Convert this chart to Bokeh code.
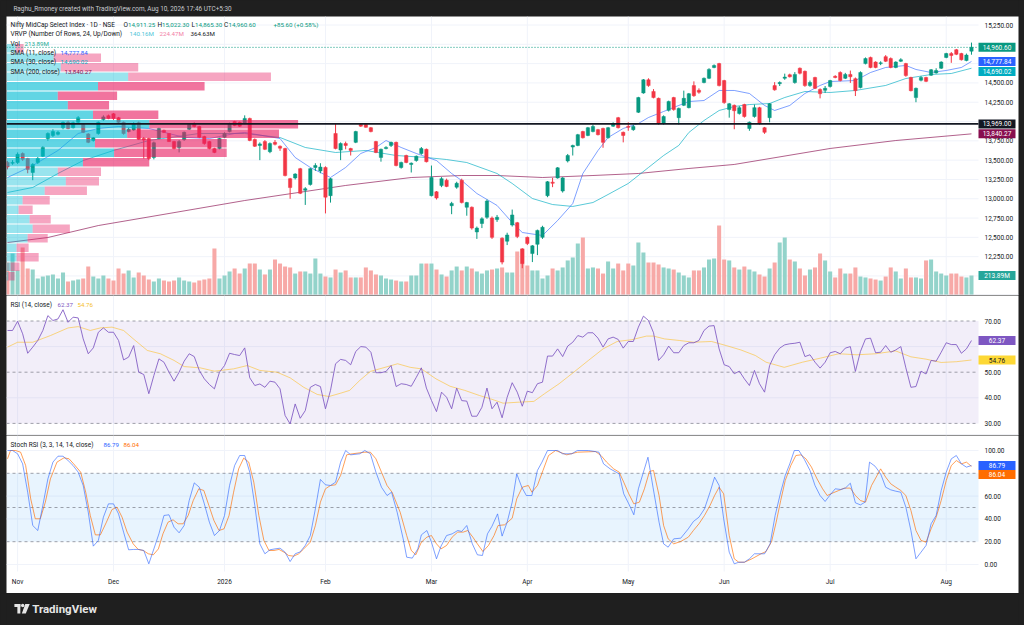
from bokeh.plotting import figure
from bokeh.models import Range1d
from bokeh.layouts import column
from bokeh.embed import file_html
from bokeh.resources import INLINE
from bokeh.core.properties import value

# ------------------------------------------------------------------ DATA
opens = [
13470, 13460, 13470, 13585, 13520, 13340, 13470, 13550, 13780, 13820,
13835, 13920, 13990, 13920, 13990, 13960, 13840, 13755, 13845, 14025,
14075, 14100, 14050, 13990, 13870, 13890, 13985, 13780, 13780, 13535,
13780, 13885, 13845, 13740, 13665, 13765, 13900, 13975, 13935, 13805,
13740, 13650, 13650, 13795, 13870, 14000, 13990, 13975, 14040, 13767,
13690, 13740, 13610, 13730, 13680, 13650, 13260, 13270, 13390, 13110,
13185, 13405, 13360, 13405, 13040, 13845, 13630, 13715, 13650, 13730,
13960, 13960, 13920, 13740, 13535, 13650, 13690, 13730, 13405, 13560,
13445, 13495, 13585, 13640, 13040, 13090, 13170, 13240, 12910, 13150,
13240, 12890, 12890, 12570, 12680, 12760, 12750, 12730, 12490, 12450,
12660, 12690, 12350, 12500, 12290, 12410, 12500, 13040, 13215, 13270,
13100, 13490, 13670, 13690, 13870, 13820, 13870, 13895, 13910, 13790,
13940, 14050, 13860, 13935, 13895, 14120, 14370, 14540, 14390, 14300,
13975, 14145, 14310, 14050, 14210, 14180, 14465, 14405, 14505, 14560,
14700, 14750, 14530, 14155, 14210, 14105, 14220, 13910, 14065, 14180,
13920, 14050, 14465, 14490, 14560, 14605, 14505, 14690, 14650, 14465,
14570, 14415, 14405, 14455, 14585, 14635, 14560, 14610, 14555, 14440,
14750, 14830, 14770, 14750, 14840, 14815, 14700, 14780, 14750, 14570,
14310, 14535, 14570, 14600, 14630, 14690, 14830, 14880, 14930, 14880,
14790, 14911.25]

highs = [
13490, 13500, 13600, 13600, 13530, 13460, 13540, 13680, 13860, 13900,
13880, 14000, 14010, 14000, 14070, 13975, 13850, 13800, 14000, 14080,
14090, 14110, 14060, 14000, 13920, 13990, 14000, 13800, 13790, 13740,
13920, 13895, 13850, 13750, 13760, 13870, 13975, 13990, 13945, 13815,
13750, 13660, 13790, 13860, 13985, 14010, 14000, 14080, 14050, 13780,
13730, 13760, 13730, 13760, 13690, 13660, 13270, 13330, 13400, 13150,
13400, 13460, 13460, 13420, 13270, 13970, 13730, 13740, 13660, 13880,
13975, 13970, 13930, 13750, 13650, 13680, 13740, 13740, 13480, 13570,
13470, 13560, 13670, 13650, 13430, 13100, 13280, 13260, 12960, 13220,
13260, 12960, 12900, 12640, 12760, 12990, 12770, 12790, 12500, 12560,
12860, 12700, 12360, 12510, 12400, 12600, 12650, 13230, 13270, 13410,
13280, 13580, 13700, 13840, 13880, 13930, 13960, 13905, 13920, 13930,
13990, 14060, 13870, 13990, 13960, 14320, 14550, 14560, 14420, 14310,
14080, 14270, 14320, 14180, 14400, 14370, 14520, 14430, 14570, 14690,
14740, 14760, 14540, 14240, 14220, 14200, 14230, 14000, 14220, 14190,
13930, 14240, 14510, 14520, 14620, 14620, 14640, 14700, 14660, 14530,
14580, 14430, 14460, 14540, 14600, 14650, 14630, 14660, 14570, 14650,
14830, 14840, 14780, 14780, 14860, 14830, 14780, 14820, 14760, 14580,
14440, 14590, 14580, 14680, 14690, 14780, 14890, 14900, 14940, 14890,
14880, 15022.30]

lows = [
13380, 13440, 13450, 13490, 13330, 13240, 13450, 13540, 13750, 13800,
13820, 13900, 13900, 13910, 13980, 13850, 13720, 13740, 13830, 14010,
14030, 14020, 13980, 13830, 13860, 13880, 13760, 13520, 13500, 13510,
13770, 13850, 13735, 13640, 13600, 13750, 13890, 13925, 13785, 13700,
13640, 13590, 13640, 13785, 13860, 13940, 13930, 13965, 13745, 13670,
13500, 13630, 13590, 13690, 13620, 13290, 13000, 13250, 13060, 12920,
13170, 13360, 13330, 12810, 12950, 13640, 13500, 13640, 13560, 13720,
13930, 13920, 13860, 13590, 13480, 13640, 13670, 13420, 13390, 13460,
13340, 13480, 13570, 13470, 13030, 12990, 13150, 13150, 12800, 13130,
12940, 12780, 12600, 12480, 12620, 12740, 12480, 12700, 12150, 12400,
12640, 12490, 12100, 12400, 12180, 12270, 12480, 13020, 13150, 13260,
13080, 13470, 13560, 13680, 13780, 13810, 13860, 13820, 13660, 13780,
13930, 13910, 13730, 13880, 13880, 14110, 14360, 14450, 14300, 13960,
13960, 14130, 14140, 13960, 14200, 14170, 14320, 14360, 14495, 14550,
14690, 14455, 14230, 14050, 13900, 14090, 14050, 13880, 14050, 13960,
13840, 13990, 14400, 14460, 14540, 14570, 14490, 14610, 14450, 14450,
14420, 14300, 14370, 14440, 14560, 14520, 14550, 14500, 14330, 14430,
14740, 14690, 14690, 14730, 14770, 14690, 14690, 14770, 14580, 14390,
14250, 14520, 14510, 14590, 14620, 14680, 14820, 14760, 14860, 14790,
14780, 14865.30]

closes = [
13410, 13470, 13575, 13510, 13380, 13445, 13520, 13665, 13845, 13870,
13860, 13990, 13910, 13985, 14050, 13860, 13730, 13790, 13990, 14060,
14040, 14040, 13990, 13845, 13900, 13970, 13770, 13760, 13520, 13725,
13910, 13860, 13740, 13650, 13740, 13860, 13960, 13935, 13795, 13715,
13650, 13600, 13780, 13845, 13975, 13950, 13940, 14040, 13755, 13680,
13710, 13640, 13715, 13705, 13655, 13300, 13145, 13320, 13070, 13130,
13390, 13430, 13410, 13020, 13260, 13650, 13715, 13690, 13625, 13870,
13940, 13925, 13870, 13600, 13640, 13665, 13730, 13430, 13470, 13470,
13460, 13550, 13650, 13480, 13275, 13010, 13260, 13160, 12940, 13200,
12950, 12950, 12620, 12620, 12740, 12970, 12500, 12760, 12180, 12530,
12790, 12510, 12160, 12420, 12390, 12590, 12630, 13220, 13200, 13400,
13270, 13560, 13690, 13830, 13790, 13920, 13935, 13830, 13730, 13920,
13975, 13920, 13820, 13925, 13935, 14310, 14540, 14465, 14310, 13975,
14065, 14260, 14155, 14170, 14300, 14360, 14335, 14380, 14560, 14675,
14725, 14465, 14245, 14230, 14140, 14180, 14065, 13990, 14180, 13975,
13860, 14230, 14410, 14505, 14575, 14580, 14610, 14625, 14465, 14505,
14430, 14360, 14430, 14530, 14570, 14530, 14610, 14580, 14400, 14635,
14815, 14700, 14700, 14760, 14780, 14700, 14770, 14800, 14595, 14400,
14430, 14570, 14520, 14670, 14660, 14770, 14880, 14855, 14870, 14800,
14860, 14960.60]

volumes_m = [
353, 449, 268, 514, 289, 278, 182, 203, 214, 225,
182, 246, 150, 160, 171, 182, 310, 203, 182, 214,
182, 160, 289, 235, 268, 193, 246, 214, 171, 150,
182, 160, 150, 160, 193, 160, 150, 139, 160, 171,
182, 503, 182, 214, 257, 289, 235, 289, 342, 342,
278, 225, 278, 385, 342, 310, 300, 235, 257, 257,
235, 396, 235, 203, 193, 278, 246, 268, 193, 193,
193, 300, 268, 225, 214, 182, 171, 160, 150, 150,
214, 214, 342, 342, 342, 278, 225, 203, 268, 310,
268, 310, 289, 257, 235, 268, 278, 289, 300, 246,
246, 471, 503, 321, 268, 268, 182, 214, 289, 268,
300, 375, 407, 556, 621, 289, 300, 289, 235, 364,
289, 342, 268, 342, 321, 567, 460, 353, 353, 332,
300, 289, 278, 246, 214, 193, 268, 268, 300, 385,
396, 749, 385, 375, 300, 278, 310, 278, 257, 225,
203, 289, 353, 567, 621, 385, 364, 289, 214, 278,
300, 449, 375, 257, 193, 289, 235, 235, 300, 203,
193, 182, 171, 160, 203, 300, 257, 182, 289, 193,
193, 182, 375, 385, 257, 235, 214, 235, 235, 203,
193, 213.89]

sma11_x = [0, 5, 10, 14, 18, 22, 28, 35, 40, 45, 47, 54, 57, 60, 64, 67, 70, 73, 75, 78,
           81, 85, 88, 90, 93, 97, 100, 102, 106, 109, 112, 114, 117, 119, 122, 125, 127, 130, 133, 135,
           138, 141, 144, 147, 150, 152, 155, 158, 161, 163, 168, 171, 174, 178, 180, 183, 186, 189, 191]
sma11 = [13275, 13430, 13625, 13845, 13910, 13935, 13910, 13795, 13780, 13845, 13858, 13780, 13534, 13405, 13275, 13405, 13586, 13664, 13754, 13664,
         13586, 13495, 13327, 13236, 13068, 12913, 12692, 12563, 12524, 12718, 12938, 13327, 13625, 13793, 13910, 13974, 14052, 14130, 14208, 14259,
         14272, 14402, 14402, 14363, 14208, 14143, 14208, 14363, 14467, 14518, 14531, 14635, 14700, 14726, 14674, 14635, 14661, 14700, 14777.84]

sma30_x = [0, 5, 10, 15, 21, 28, 38, 47, 54, 59, 65, 71, 77, 83, 87, 91, 97, 100, 104, 108,
           112, 116, 119, 123, 127, 130, 133, 135, 138, 141, 144, 147, 151, 154, 158, 163, 168, 174, 178, 183, 187, 191]
sma30 = [13081, 13146, 13327, 13495, 13625, 13754, 13845, 13845, 13793, 13664, 13599, 13625, 13560, 13534, 13508, 13469, 13327, 13198, 13003, 12925,
         12900, 12951, 13055, 13198, 13405, 13560, 13690, 13858, 14013, 14143, 14194, 14220, 14233, 14311, 14389, 14376, 14402, 14467, 14557, 14609, 14622, 14690.02]

sma200_x = [0, 8, 18, 32, 47, 67, 80, 90, 97, 106, 116, 125, 135, 144, 163, 176, 191]
sma200 = [12433, 12498, 12653, 12809, 12977, 13172, 13275, 13301, 13301, 13275, 13301, 13327, 13392, 13444, 13651, 13754, 13840.27]

poc_price = 13969.00

vp_row_low = [14887, 14764, 14641, 14518, 14395, 14272, 14149, 14026, 13903, 13780, 13657, 13534, 13411,
              13288, 13165, 13042, 12919, 12796, 12673, 12550, 12427, 12304, 12181, 12058, 11935]
vp_row_height = 123
vp_up = [9, 47, 54, 121, 91, 51, 61, 86, 142, 120, 88, 107, 76, 51, 59, 38, 16, 12, 23, 26, 21, 10, 10, 4, 2]
vp_down = [8, 47, 77, 142, 106, 59, 41, 65, 148, 151, 131, 112, 66, 43, 33, 42, 27, 14, 21, 37, 20, 12, 22, 9, 6]
vp_value_area = [False] * 4 + [True] * 9 + [False] * 12

rsi_vals = [
66.3, 66.3, 69.9, 65.0, 57.4, 59.8, 62.4, 66.3, 72.1, 70.2,
70.8, 74.4, 69.5, 71.5, 71.2, 63.0, 57.2, 59.5, 65.6, 67.3,
65.6, 65.6, 62.4, 54.8, 55.9, 60.4, 50.0, 49.1, 41.6, 48.7,
55.2, 53.9, 50.0, 46.5, 50.0, 54.3, 57.2, 56.1, 50.7, 47.4,
45.2, 43.5, 50.0, 52.6, 57.4, 56.9, 56.5, 59.5, 47.8, 44.8,
45.4, 44.1, 46.5, 46.1, 43.5, 33.1, 29.8, 37.6, 32.0, 35.0,
44.1, 45.2, 44.4, 35.7, 42.9, 53.3, 55.0, 54.6, 52.9, 58.1,
60.0, 59.8, 57.8, 49.8, 49.8, 50.3, 52.6, 44.4, 45.5, 45.2,
44.5, 48.0, 51.7, 43.8, 39.0, 34.6, 42.2, 40.2, 35.7, 43.8,
38.9, 38.7, 32.8, 32.8, 36.3, 43.8, 35.7, 38.3, 32.2, 40.2,
45.9, 42.2, 36.7, 42.6, 42.0, 45.5, 46.1, 56.3, 56.3, 59.1,
56.1, 60.2, 61.7, 64.3, 63.7, 65.4, 65.4, 63.3, 59.8, 63.0,
63.7, 62.8, 59.4, 62.0, 62.0, 67.6, 71.9, 70.2, 65.4, 54.6,
56.8, 60.2, 57.6, 57.6, 60.4, 61.5, 61.5, 62.4, 66.3, 68.0,
68.2, 59.1, 52.9, 52.2, 49.4, 50.4, 47.4, 44.8, 50.7, 45.5,
42.2, 52.6, 56.8, 59.4, 60.7, 61.1, 61.3, 61.7, 56.1, 56.8,
53.9, 51.6, 53.9, 57.6, 58.1, 57.2, 59.4, 60.0, 50.3, 58.1,
63.0, 63.3, 57.6, 57.8, 60.4, 57.8, 58.7, 60.0, 51.7, 44.1,
44.4, 50.4, 49.3, 54.6, 54.3, 57.8, 61.5, 60.8, 60.8, 57.4,
59.1, 62.37]

rsi_ma_x = [0, 2, 5, 8.5, 12, 14, 16.4, 18.4, 20.7, 23, 25, 27.7, 30.3, 33, 35, 38.2, 41, 44.8, 47.5, 50,
            53.4, 56, 58.7, 61.4, 63.7, 66, 67.8, 69.8, 71.9, 74.8, 77.3, 79.8, 82, 84.9, 87.7, 90.6, 93.5, 95.7, 98.2, 101.4,
            104.3, 106.4, 109.3, 112.2, 115.1, 118, 120.8, 123.7, 126.6, 128, 130.2, 133.1, 135.9, 139.5, 142.4, 145.3, 148.2, 150.3, 153.9, 157.5,
            161.1, 164.7, 168.3, 172, 176, 179, 182, 185, 188, 191]
rsi_ma = [59.8, 61.7, 61.7, 64.3, 67.3, 67.8, 66.3, 67.3, 67.6, 66.3, 62.9, 58.5, 57.2, 54.6, 52.2, 51.7, 50.4, 51.3, 52.6, 50.7,
          50.0, 47.8, 44.1, 41.3, 40.5, 41.8, 42.9, 46.8, 50.3, 51.9, 53.3, 51.9, 51.3, 47.4, 44.5, 42.9, 40.9, 39.6, 37.9, 38.3,
          38.6, 41.6, 45.5, 50.0, 54.6, 59.1, 62.0, 62.7, 64.1, 64.1, 63.0, 62.4, 61.7, 62.0, 60.4, 58.7, 56.5, 53.9, 51.9, 53.9,
          55.5, 57.2, 56.8, 57.2, 58.3, 56.0, 55.1, 53.8, 54.1, 54.76]

stoch_k_x = list(range(67)) + [
    67, 68.0, 69.8, 70.8, 71.9, 73.0, 74.1, 75.2, 76.1, 77.2,
    78.4, 79.1, 80.2, 81.3, 82.0, 83.1, 84.0, 85.0, 85.9, 87.0,
    88.1, 89.2, 90.0, 91.0, 92.1, 93.1, 94.1, 95.1, 96.0, 97.1,
    98.0, 99.0, 100.0, 100.9, 101.9, 102.8, 103.9, 105.0, 105.9, 107.0,
    109.0, 110.0, 111.8, 112.9, 115.1, 117.2, 118.1, 119.4, 121.2, 122.1,
    123.1, 124.1, 125.0, 126.0, 126.9, 127.9, 129.1, 130.0, 130.9, 132.0,
    133.4, 134.9, 135.9, 137.0, 138.1, 139.2, 140.1, 141.0, 141.9, 143.0,
    144.0, 144.9, 146.0, 147.0, 148.0, 150.0, 151.1, 152.1, 153.2, 154.1,
    155.0, 155.9, 156.8, 157.9, 159.0, 160.0, 161.0, 162.0, 162.9, 164.0,
    165.1, 166.0, 167.0, 168.0, 169.0, 169.9, 170.8, 171.9] + list(range(173, 192))
stoch_k = [
    100, 100, 97.1, 88.3, 63.4, 34.2, 29.8, 51.8, 75.1, 89.8,
    95.0, 95.0, 91.2, 86.8, 81.0, 69.3, 45.9, 16.1, 21.1, 41.5,
    53.2, 53.2, 44.4, 28.4, 12.9, 13.2, 13.2, 12.3, 0.6, 13.7,
    26.9, 43.0, 43.6, 32.7, 27.8, 34.2, 56.1, 71.6, 67.8, 53.2,
    37.1, 25.4, 29.8, 43.0, 69.3, 86.8, 95.6, 95.6, 81.0, 51.8,
    18.1, 9.4, 12.9, 13.7, 14.3, 10.8, 2.6, 9.4, 11.1, 16.7,
    25.4, 48.8, 74.6, 69.9, 69.3, 72.2, 89.8,
    100, 96.2, 97.1, 100, 97.1, 81.0, 67.8, 60.5, 63.4, 45.9,
    22.5, 6.4, 5.6, 13.7, 26.0, 29.8, 19.6, 5.0, 16.1, 25.4,
    26.9, 29.8, 29.0, 34.2, 18.1, 8.5, 7.9, 26.9, 33.6, 44.4,
    24.9, 37.1, 54.7, 79.5, 67.8, 60.5, 60.5, 82.5, 89.8, 100,
    100, 97.1, 97.1, 100, 100, 98.5, 88.3, 83.9, 79.5, 62.0,
    53.2, 43.6, 66.4, 81.0, 94.1, 67.8, 37.1, 18.1, 15.2, 22.5,
    23.1, 31.3, 37.7, 41.5, 48.8, 63.4, 76.6, 69.3, 40.1, 10.8,
    0.6, 2.0, 2.0, 5.0, 9.4, 9.4, 18.1, 43.0, 63.4, 78.1,
    88.3, 100, 100, 92.1, 82.5, 69.3, 60.5, 55.3, 60.5, 66.4,
    65.8, 67.0, 71.3, 54.1, 52.3, 54.7, 89.8, 86.2,
    79.5, 67.8, 65.5, 64.3, 63.4, 50.3, 29.8, 5.0, 10.8, 16.7,
    35.7, 43.0, 64.9, 81.0, 92.7, 95.6, 88.3, 85.4, 86.79]

stoch_d_x = [
    0, 0.6, 1.6, 2.6, 3.6, 4.6, 5.5, 6.5, 7.5, 8.5, 9.8, 11.2, 12.2, 13.1, 14.5, 15.5, 16.4, 17.4, 18.4, 19.6,
    20.7, 21.7, 22.7, 23.7, 24.9, 25.9, 26.9, 27.9, 28.9, 29.9, 30.8, 31.8, 32.8, 33.8, 34.8, 35.8, 36.8, 37.9, 38.9, 39.9,
    40.9, 41.9, 42.9, 43.9, 44.8, 45.8, 46.8, 47.8, 48.8, 49.8, 50.8, 51.8, 52.8, 53.8, 54.8, 55.7, 56.7, 57.7, 58.7, 60.0,
    61.0, 62.0, 63.0, 64.0, 65.0, 66.0,
    67.2, 68.3, 70.8, 71.9, 73.0, 74.1, 75.2, 76.2, 77.8, 79.1,
    80.0, 80.9, 82.0, 83.1, 84.0, 85.0, 85.9, 87.0, 88.1, 89.2,
    90.3, 91.2, 92.2, 93.1, 94.2, 95.3, 96.4, 97.2, 98.5, 100.0,
    100.9, 102.0, 103.2, 103.9, 105.0, 106.1, 107.2, 108.6, 110.8, 112.9,
    116.5, 117.6, 118.7, 120.1, 121.2, 122.1, 123.1, 124.1, 125.2, 126.2,
    127.2, 128.0, 129.1, 130.0, 130.9, 132.0, 133.4, 134.9, 135.9, 137.0,
    138.1, 139.2, 140.1, 141.0, 141.9, 143.0, 144.0, 144.9, 146.0, 147.5,
    149.3, 150.3, 151.4, 152.3, 153.2, 154.1, 155.2, 156.2, 157.2, 158.2,
    159.3, 160.4, 161.5, 162.4, 163.6, 164.7, 165.8, 167.0, 168.0, 169.0,
    170.0, 171.2, 172.3] + list(range(173, 192))
stoch_d = [
    92.7, 100, 100, 98.5, 86.8, 57.6, 40.1, 40.1, 54.7, 75.1,
    89.8, 93.6, 92.7, 88.3, 81.0, 63.4, 43.0, 26.0, 26.0, 37.1,
    48.2, 50.3, 41.5, 28.4, 18.1, 13.2, 12.3, 9.4, 8.5, 13.7,
    26.9, 37.1, 39.2, 35.7, 35.7, 43.0, 56.1, 66.4, 64.9, 51.8,
    38.6, 29.8, 31.3, 43.0, 63.4, 83.9, 93.3, 89.8, 72.2, 43.0,
    21.1, 12.3, 12.3, 13.2, 10.8, 7.9, 7.3, 9.4, 13.7, 19.6,
    34.2, 54.7, 66.4, 69.3, 69.9, 78.1,
    96.2, 97.1, 98.5, 98.5, 92.7, 81.0, 69.3, 63.4, 45.9, 25.4,
    12.3, 8.5, 19.6, 24.0, 25.4, 18.1, 13.7, 16.7, 24.0, 28.4,
    28.4, 29.8, 24.0, 18.1, 11.4, 16.7, 25.4, 34.2, 34.8, 40.6,
    57.6, 67.8, 69.3, 63.4, 69.3, 82.5, 95.6, 100, 96.2, 98.5,
    99.1, 95.6, 89.8, 83.9, 81.0, 72.2, 62.0, 53.2, 54.7, 66.4,
    81.6, 82.5, 60.5, 34.2, 22.5, 18.1, 20.2, 24.0, 29.8, 35.7,
    43.0, 51.8, 60.5, 67.8, 62.0, 25.4, 5.0, 2.0, 2.0, 5.0,
    9.4, 11.4, 20.2, 37.1, 56.1, 73.7, 86.8, 95.6, 96.2, 92.7,
    85.4, 75.1, 66.4, 60.5, 62.9, 64.9, 67.0, 67.0, 60.5, 56.1,
    54.7, 69.3, 78.1,
    83.9, 76.6, 70.8, 67.8, 64.9, 60.5, 47.4, 29.8, 21.1, 19.6,
    31.3, 41.5, 56.1, 73.7, 86.8, 91.2, 88.3, 89.8, 86.04]

month_pos = [2, 21, 43, 63, 84, 103, 123, 142, 163, 186]
month_labels = ["Nov", "Dec", "2026", "Feb", "Mar", "Apr", "May", "Jun", "Jul", "Aug"]
price_grid = [12000, 12250, 12500, 12750, 13000, 13250, 13500, 13750, 14000, 14250, 14500, 14750, 15000, 15250]
price_labels = [12250, 12500, 12750, 13000, 13250, 13500, 13750, 14250, 14500, 15250]
rsi_grid = [60, 40]
rsi_labels = [70, 50, 40, 30]
stoch_grid = [100, 60, 40, 0]
stoch_labels = [100, 60, 40, 20, 0]

# ------------------------------------------------------------------ LAYOUT HELPERS (page pixels)
W = 1024
SIDE = 6                      # dark frame at left / right
PXB = 5.047                   # pixels per bar
X_START = (SIDE - 7) / PXB    # bar 0 sits at page x = 7
X_END = X_START + (W - 2 * SIDE) / PXB
def bx(px):                   # page x -> bar units
    return X_START + (px - SIDE) / PXB
PLOT_END = bx(978)
TAG_L, TAG_R = PLOT_END, bx(1015)
TAG_C = (TAG_L + TAG_R) / 2
LBL_X = bx(984)

def my(py):  # page y -> price
    return 15250 - (py - 24.5) * 12.95
def ry(py):
    return 50 + (371.7 - py) / 2.56
def sy(py):
    return (564 - py) / 1.14
VOL_PER_PX = 10.7

DARK = "#1f1f1f"
FONT = value("Roboto")
FS = value("6.5px")
FSN = value("6.2px")
TXT = "#131722"
GRID = "#f0f3fa"
UP, DOWN = "#089981", "#f23645"

xr = Range1d(X_START, X_END)

def pane(h, y0, y1):
    p = figure(width=W, height=h, x_range=xr, y_range=Range1d(y0, y1),
               toolbar_location=None, output_backend="svg",
               x_axis_location=None, y_axis_location=None,
               min_border=0, min_border_left=SIDE, min_border_right=SIDE)
    p.outline_line_color = None
    p.background_fill_color = "white"
    p.border_fill_color = DARK
    p.xgrid.visible = False
    p.ygrid.visible = False
    return p

def txt(p, x, y, s, color=TXT, align="left", size=FS, style="normal", rng="default"):
    p.text(x=[x], y=[y], text=[s], text_color=color, text_font=FONT, text_font_size=size,
           text_align=align, text_baseline="middle", text_font_style=style, y_range_name=rng)

def tag(p, y, s, bg, half, fg="white", rng="default"):
    p.quad(left=[TAG_L], right=[TAG_R], bottom=[y - half], top=[y + half],
           fill_color=bg, line_color=None, y_range_name=rng)
    txt(p, TAG_C, y, s, fg, align="center", rng=rng)

def vgrid(p, y0, y1):
    p.segment(x0=month_pos, y0=[y0] * len(month_pos), x1=month_pos, y1=[y1] * len(month_pos),
              line_color=GRID, line_width=1)

def hgrid(p, ys, color=GRID, **kw):
    p.segment(x0=[X_START] * len(ys), y0=ys, x1=[PLOT_END] * len(ys), y1=ys, line_color=color, **kw)

def page_fig(h, y_top):
    p = figure(width=W, height=h, x_range=Range1d(0, W), y_range=Range1d(y_top + h, y_top),
               toolbar_location=None, output_backend="svg", x_axis_location=None,
               y_axis_location=None, min_border=0)
    p.outline_line_color = None
    p.background_fill_color = DARK
    p.border_fill_color = DARK
    p.xgrid.visible = False
    p.ygrid.visible = False
    return p

n = min(len(opens), len(highs), len(lows), len(closes), len(volumes_m), len(rsi_vals))
idx = list(range(n))
is_up = [closes[i] >= opens[i] for i in idx]

# ------------------------------------------------------------------ HEADER
ph = page_fig(16, 0)
ph.text(x=[7], y=[8], text=["Raghu_Rmoney created with TradingView.com, Aug 10, 2026 17:46 UTC+5:30"],
        text_color="#c9cbd1", text_font=FONT, text_font_size=value("6.4px"), text_baseline="middle")

# ------------------------------------------------------------------ MAIN PANE
pm = pane(279, my(295), my(16))
pm.extra_y_ranges = {"vol": Range1d(0, 279 * VOL_PER_PX)}

hgrid(pm, price_grid)
vgrid(pm, my(295), my(16))

pm.vbar(x=idx, width=0.8, top=volumes_m[:n], bottom=0,
        fill_color=["#93d3ca" if u else "#f7a9a7" for u in is_up], line_color=None, y_range_name="vol")

pm.line(sma200_x, sma200, line_color="#880e4f", line_alpha=0.65, line_width=1)
pm.line(sma30_x, sma30, line_color="#00acc1", line_alpha=0.65, line_width=1)
pm.line(sma11_x, sma11, line_color="#2962ff", line_alpha=0.6, line_width=1)

ccol = [UP if u else DOWN for u in is_up]
pm.segment(x0=idx, y0=lows[:n], x1=idx, y1=highs[:n], line_color=ccol, line_width=1)
pm.vbar(x=idx, width=0.66, top=[max(opens[i], closes[i]) for i in idx],
        bottom=[min(opens[i], closes[i]) for i in idx], fill_color=ccol, line_color=ccol, line_width=0.5)

# volume profile of the visible range
vp_scale = 0.30 * (PLOT_END - X_START) / max(u + d for u, d in zip(vp_up, vp_down))
vp_y = [lo + vp_row_height / 2 for lo in vp_row_low]
up_r = [X_START + u * vp_scale for u in vp_up]
dn_r = [up_r[i] + vp_down[i] * vp_scale for i in range(len(vp_up))]
vp_alpha = [0.62 if v else 0.4 for v in vp_value_area]
pm.hbar(y=vp_y, height=vp_row_height * 0.9, left=X_START, right=up_r,
        fill_color="#00bcd4", fill_alpha=vp_alpha, line_color=None)
pm.hbar(y=vp_y, height=vp_row_height * 0.9, left=up_r, right=dn_r,
        fill_color="#e91e63", fill_alpha=vp_alpha, line_color=None)

pm.segment(x0=[X_START], y0=[poc_price], x1=[PLOT_END], y1=[poc_price], line_color="#131722", line_width=1.6)
pm.segment(x0=[X_START], y0=[closes[n - 1]], x1=[PLOT_END], y1=[closes[n - 1]],
           line_color=UP, line_width=1, line_dash="1 2")
pm.segment(x0=[X_START], y0=[my(294.5)], x1=[X_END], y1=[my(294.5)], line_color="#e0e3eb", line_width=1)

# legend
ly = [my(24), my(33), my(43), my(52), my(61), my(71)]
txt(pm, bx(10), ly[0], "Nifty MidCap Select Index · 1D · NSE")
txt(pm, bx(123), ly[0], "O")
txt(pm, bx(127.5), ly[0], "14,911.25", UP, size=FSN)
txt(pm, bx(157), ly[0], "H")
txt(pm, bx(161.5), ly[0], "15,022.30", UP, size=FSN)
txt(pm, bx(191), ly[0], "L")
txt(pm, bx(194.5), ly[0], "14,865.30", UP, size=FSN)
txt(pm, bx(223.5), ly[0], "C")
txt(pm, bx(228), ly[0], "14,960.60", UP, size=FSN)
txt(pm, bx(273), ly[0], "+85.60 (+0.58%)", UP, size=FSN)
txt(pm, bx(10), ly[1], "VRVP (Number Of Rows, 24, Up/Down)")
txt(pm, bx(129), ly[1], "140.16M", "#4fc6d8", size=FSN)
txt(pm, bx(159), ly[1], "224.47M", "#f27ea6", size=FSN)
txt(pm, bx(190), ly[1], "364.63M", size=FSN)
txt(pm, bx(10), ly[2], "Vol")
txt(pm, bx(24), ly[2], "213.89M", "#22ab94", size=FSN)
txt(pm, bx(10), ly[3], "SMA (11, close)")
txt(pm, bx(60), ly[3], "14,777.84", "#2962ff", size=FSN)
txt(pm, bx(10), ly[4], "SMA (30, close)")
txt(pm, bx(60), ly[4], "14,690.02", "#00acc1", size=FSN)
txt(pm, bx(10), ly[5], "SMA (200, close)")
txt(pm, bx(64), ly[5], "13,840.27", "#880e4f", size=FSN)

for v in price_labels:
    txt(pm, LBL_X, v, f"{v:,.2f}")
hm = 4.5 * 12.95
tag(pm, closes[n - 1], "14,960.60", UP, hm)
tag(pm, sma11[-1], "14,777.84", "#2962ff", hm)
tag(pm, my(71), "14,690.02", "#00acc1", hm)
tag(pm, poc_price, "13,969.00", "#131722", hm)
tag(pm, sma200[-1], "13,840.27", "#880e4f", hm)
tag(pm, volumes_m[n - 1], "213.89M", "#26a69a", 4.5 * VOL_PER_PX, rng="vol")

# ------------------------------------------------------------------ RSI PANE
pr = pane(140, ry(435), ry(295))
vgrid(pr, ry(435), ry(295))
hgrid(pr, rsi_grid)
pr.quad(left=[X_START], right=[PLOT_END], bottom=[30], top=[70], fill_color="#7e57c2", fill_alpha=0.1, line_color=None)
hgrid(pr, [70, 50, 30], color="#787b86", line_alpha=0.7, line_dash="3 3", line_width=1)
pr.line(rsi_ma_x, rsi_ma, line_color="#fbc02d", line_alpha=0.6, line_width=1)
pr.line(idx, rsi_vals[:n], line_color="#7e57c2", line_alpha=0.85, line_width=1)
pr.segment(x0=[X_START], y0=[ry(434.5)], x1=[X_END], y1=[ry(434.5)], line_color="#e0e3eb", line_width=1)
txt(pr, bx(10), ry(304), "RSI (14, close)")
txt(pr, bx(57), ry(304), "62.37", "#7e57c2", size=FSN)
txt(pr, bx(77), ry(304), "54.76", "#f5c02a", size=FSN)
for v in rsi_labels:
    txt(pr, LBL_X, v, f"{v:.2f}")
hr = 4.5 / 2.56
tag(pr, rsi_vals[n - 1], "62.37", "#7e57c2", hr)
tag(pr, rsi_ma[-1], "54.76", "#fdd835", hr, fg="#131722")

# ------------------------------------------------------------------ STOCH RSI PANE
ps = pane(158, sy(593), sy(435))
vgrid(ps, sy(571), sy(435))
hgrid(ps, stoch_grid)
ps.quad(left=[X_START], right=[PLOT_END], bottom=[20], top=[80], fill_color="#2196f3", fill_alpha=0.1, line_color=None)
hgrid(ps, [80, 50, 20], color="#787b86", line_alpha=0.7, line_dash="3 3", line_width=1)
ps.line(stoch_d_x, stoch_d, line_color="#ff6d00", line_alpha=0.65, line_width=1)
ps.line(stoch_k_x, stoch_k, line_color="#2962ff", line_alpha=0.6, line_width=1)
txt(ps, bx(10), sy(444), "Stoch RSI (3, 3, 14, 14, close)")
txt(ps, bx(103), sy(444), "86.79", "#2962ff", size=FSN)
txt(ps, bx(123), sy(444), "86.04", "#ff6d00", size=FSN)
for v in stoch_labels:
    txt(ps, LBL_X, v, f"{v:.2f}")
hs = 4.5 / 1.14
tag(ps, stoch_k[-1], "86.79", "#2962ff", hs)
tag(ps, sy(474), "86.04", "#ff6d00", hs)
ps.text(x=month_pos, y=[sy(581)] * len(month_pos), text=month_labels, text_color=TXT, text_font=FONT,
        text_font_size=FS, text_align="center", text_baseline="middle")

# ------------------------------------------------------------------ FOOTER
pf = page_fig(32, 593)
LOGO = "#e6e6e6"
pf.quad(left=[8, 11], right=[14, 14], top=[603.5, 603.5], bottom=[606.5, 613], fill_color=LOGO, line_color=None)
pf.ellipse(x=[16.4], y=[605], width=3.4, height=3.4, fill_color=LOGO, line_color=None)
pf.patch(x=[19, 23.5, 19.5, 15.5], y=[603.5, 603.5, 613, 613], fill_color=LOGO, line_color=None)
pf.text(x=[26], y=[608.5], text=["TradingView"], text_color=LOGO, text_font=FONT,
        text_font_size=value("11.5px"), text_font_style="bold", text_baseline="middle")

layout = column(ph, pm, pr, ps, pf)
html = file_html(layout, INLINE, title="Nifty MidCap Select Index")
html = html.replace("</head>", "<style>html,body{background:#1f1f1f;margin:0;padding:0;}</style></head>", 1)
open("out.html", "w").write(html)
